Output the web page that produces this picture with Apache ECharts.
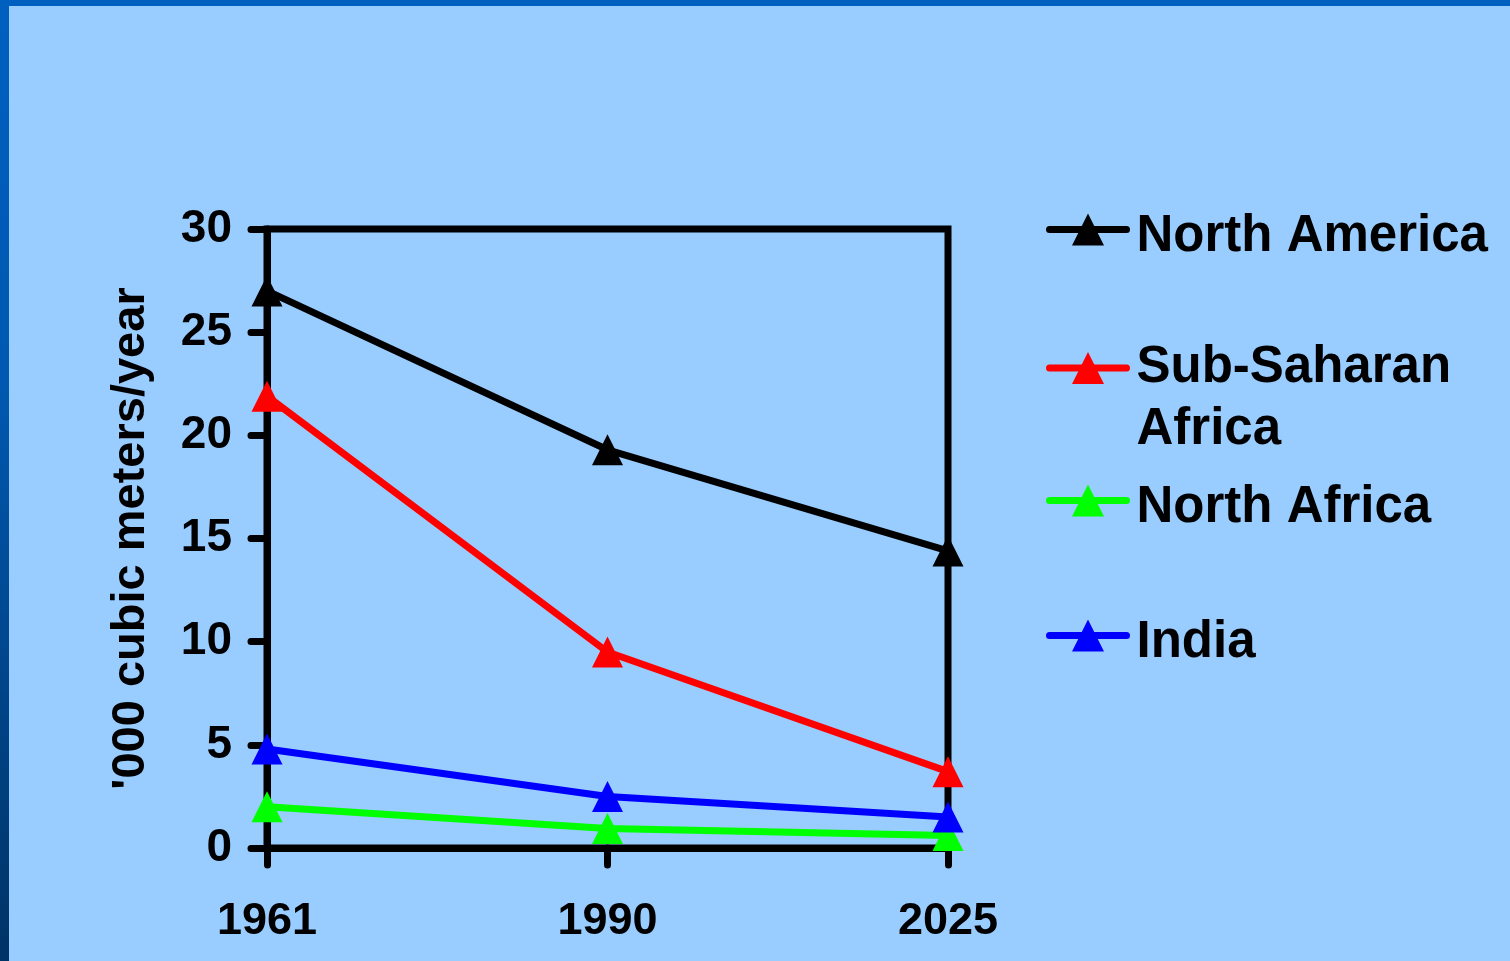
<!DOCTYPE html>
<html>
<head>
<meta charset="utf-8">
<script src="https://cdn.jsdelivr.net/npm/echarts@6/dist/echarts.min.js"></script>
<style>
  html, body { margin: 0; padding: 0; }
  #frame { position: relative; width: 1510px; height: 961px; background: #99CCFF; overflow: hidden; }
  #topbar { position: absolute; left: 0; top: 0; width: 1510px; height: 6px; background: #0060C0; }
  #leftbar { position: absolute; left: 0; top: 0; width: 9px; height: 961px; background: linear-gradient(to bottom, #0060C0 0%, #0058B0 40%, #003366 100%); }
  #chart { position: absolute; left: 0; top: 0; width: 1510px; height: 961px; }
</style>
</head>
<body>
<div id="frame">
  <div id="topbar"></div>
  <div id="leftbar"></div>
  <div id="chart"></div>
</div>
<script>
// Renewable water resources per person, thousand cubic metres per year
const years = ['1961', '1990', '2025'];
const northAmerica = [27.0, 19.3, 14.4];
const subSaharanAfrica = [21.9, 9.5, 3.7];
const northAfrica = [2.0, 0.95, 0.6];
const india = [4.8, 2.5, 1.5];

const seriesNames = ['North America', 'Sub-Saharan Africa', 'North Africa', 'India'];
const seriesColors = ['#000000', '#FF0000', '#00FF00', '#0000FF'];
const seriesValues = [northAmerica, subSaharanAfrica, northAfrica, india];
// Legend entries are placed one by one so the wrapped entry keeps its icon on the first line
const legendTops = [197, 275, 468, 603];

const FONT = '"Liberation Sans", Arial, sans-serif';

const chart = echarts.init(document.getElementById('chart'), null, { renderer: 'canvas' });

const legends = seriesNames.map((name, i) => {
  const twoLine = name === 'Sub-Saharan Africa';
  const base = {
    data: [name],
    orient: 'vertical',
    left: 1046,
    top: legendTops[i],
    padding: 0,
    itemWidth: 77,
    itemHeight: 40,
    selectedMode: false,
    lineStyle: { width: 7, cap: 'round' }
  };
  if (twoLine) {
    // a leading blank line centres the first text line on the icon
    base.formatter = '\nSub-Saharan\nAfrica';
    base.textStyle = {
      fontFamily: FONT, fontWeight: 'bold', fontSize: 51, color: '#000',
      lineHeight: 62, padding: [0, 0, 0, 5]
    };
  } else {
    base.formatter = '{t|' + name + '}';
    base.textStyle = {
      fontFamily: FONT, fontWeight: 'bold', fontSize: 51, color: '#000',
      rich: {
        t: {
          fontFamily: FONT, fontWeight: 'bold', fontSize: 51, color: '#000',
          lineHeight: 48, padding: [14, 0, 0, 5]
        }
      }
    };
  }
  return base;
});

const option = {
  animation: false,
  backgroundColor: 'transparent',
  legend: legends,
  grid: {
    left: 267, top: 229, right: 562, bottom: 113,
    show: true,
    borderColor: '#000',
    borderWidth: 7,
    backgroundColor: 'transparent'
  },
  xAxis: {
    type: 'category',
    data: years,
    boundaryGap: false,
    axisLine: { lineStyle: { color: '#000', width: 7, cap: 'round' } },
    axisTick: { show: true, length: 17, lineStyle: { color: '#000', width: 7, cap: 'round' } },
    axisLabel: {
      margin: 51,
      fontFamily: FONT, fontWeight: 'bold', fontSize: 45, color: '#000'
    },
    splitLine: { show: false }
  },
  yAxis: {
    type: 'value',
    min: 0, max: 30, interval: 5,
    name: "'000 cubic meters/year",
    nameLocation: 'middle',
    nameRotate: 90,
    nameGap: 112,
    nameTextStyle: { fontFamily: FONT, fontWeight: 'bold', fontSize: 47, color: '#000' },
    axisLine: { show: true, lineStyle: { color: '#000', width: 7, cap: 'round' } },
    axisTick: { show: true, length: 16, lineStyle: { color: '#000', width: 7, cap: 'round' } },
    axisLabel: {
      margin: 35,
      fontFamily: FONT, fontWeight: 'bold', fontSize: 46, color: '#000'
    },
    splitLine: { show: false }
  },
  series: seriesNames.map((name, i) => ({
    name: name,
    type: 'line',
    data: seriesValues[i],
    symbol: 'triangle',
    symbolSize: [31, 31],
    clip: false,
    itemStyle: { color: seriesColors[i], borderWidth: 0 },
    lineStyle: { color: seriesColors[i], width: 7, cap: 'round' },
    emphasis: { disabled: true }
  }))
};

chart.setOption(option);
</script>
</body>
</html>
